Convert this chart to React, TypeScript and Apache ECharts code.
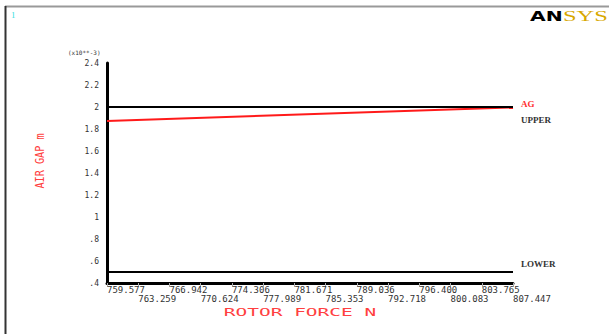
import React, { useEffect, useRef } from "react";
import * as echarts from "echarts";

const xTicks = [759.577, 763.259, 766.942, 770.624, 774.306, 777.989, 781.671, 785.353, 789.036, 792.718, 796.4, 800.083, 803.765, 807.447];
const xTickLabels = ["759.577", "763.259", "766.942", "770.624", "774.306", "777.989", "781.671", "785.353", "789.036", "792.718", "796.400", "800.083", "803.765", "807.447"];
const yTicks = [0.4, 0.6, 0.8, 1.0, 1.2, 1.4, 1.6, 1.8, 2.0, 2.2, 2.4];
const yTickLabels = [".4", ".6", ".8", "1", "1.2", "1.4", "1.6", "1.8", "2", "2.2", "2.4"];
const forceX = [759.577, 807.447];
const agValues = [1.873, 1.996];
const upperValues = [2.0, 2.0];
const lowerValues = [0.5, 0.5];

function nearestIndex(arr: number[], v: number) {
  let best = 0;
  let bd = Infinity;
  arr.forEach((a, i) => {
    const d = Math.abs(a - v);
    if (d < bd) {
      bd = d;
      best = i;
    }
  });
  return best;
}

export default function App() {
  const ref = useRef<HTMLDivElement>(null);
  useEffect(() => {
    if (!ref.current) return;
    const chart = echarts.init(ref.current, null, { renderer: "svg" });
    const mono = "DejaVu Sans Mono";
    const evenTicks = xTicks.filter((_, i) => i % 2 === 0);
    const oddTicks = xTicks.filter((_, i) => i % 2 === 1);
    const xLabelBase = {
      align: "left",
      fontFamily: mono,
      fontSize: 9,
      color: "#333",
      showMinLabel: true,
      showMaxLabel: true,
      hideOverlap: false,
      formatter: (v: number) => xTickLabels[nearestIndex(xTicks, v)],
    };
    chart.setOption({
      animation: false,
      backgroundColor: "#ffffff",
      grid: { left: 107, right: 96, top: 63, bottom: 51 },
      xAxis: [
        {
          type: "value",
          min: xTicks[0],
          max: xTicks[xTicks.length - 1],
          axisLine: { show: true, lineStyle: { color: "#000", width: 3 } },
          axisTick: { show: true, customValues: xTicks, length: 4, lineStyle: { color: "#aaa", width: 1 } },
          splitLine: { show: false },
          axisLabel: { ...xLabelBase, customValues: evenTicks, margin: 2 },
        },
        {
          type: "value",
          position: "bottom",
          offset: 9,
          min: xTicks[0],
          max: xTicks[xTicks.length - 1],
          axisLine: { show: false },
          axisTick: { show: false },
          splitLine: { show: false },
          axisLabel: { ...xLabelBase, customValues: oddTicks, margin: 2 },
        },
      ],
      yAxis: {
        type: "value",
        min: 0.4,
        max: 2.4,
        axisLine: { show: true, lineStyle: { color: "#000", width: 3 } },
        axisTick: { show: false },
        splitLine: { show: false },
        axisLabel: {
          customValues: yTicks,
          margin: 8,
          fontFamily: mono,
          fontSize: 8,
          color: "#333",
          showMinLabel: true,
          showMaxLabel: true,
          formatter: (v: number) => yTickLabels[nearestIndex(yTicks, v)],
        },
      },
      series: [
        {
          name: "UPPER",
          type: "line",
          data: forceX.map((x, i) => [x, upperValues[i]]),
          symbol: "none",
          lineStyle: { color: "#000", width: 2 },
          z: 3,
        },
        {
          name: "LOWER",
          type: "line",
          data: forceX.map((x, i) => [x, lowerValues[i]]),
          symbol: "none",
          lineStyle: { color: "#000", width: 2 },
          z: 3,
        },
        {
          name: "AG",
          type: "line",
          data: forceX.map((x, i) => [x, agValues[i]]),
          symbol: "none",
          lineStyle: { color: "#ff1a1a", width: 2 },
          z: 2,
        },
      ],
      graphic: [
        { type: "line", shape: { x1: 5, y1: 6.5, x2: 609, y2: 6.5 }, style: { stroke: "#999", lineWidth: 2 } },
        { type: "line", shape: { x1: 5.5, y1: 6, x2: 5.5, y2: 334 }, style: { stroke: "#333", lineWidth: 2 } },
        { type: "text", x: 11, y: 10, style: { text: "1", fill: "#33e0e0", fontSize: 9, fontFamily: "Liberation Serif" } },
        {
          type: "text", x: 530, y: 9, scaleX: 1.45,
          style: { text: "AN", fill: "#000", fontSize: 14, fontWeight: 900, fontFamily: "DejaVu Sans" },
        },
        {
          type: "text", x: 563, y: 9, scaleX: 1.75,
          style: { text: "SYS", fill: "#d8a800", fontSize: 14, fontFamily: "Liberation Serif" },
        },
        {
          type: "text", x: 68, y: 49,
          style: { text: "(x10**-3)", fill: "#333", fontSize: 6, fontFamily: mono },
        },
        {
          type: "text", x: 40, y: 161, rotation: Math.PI / 2, scaleX: 0.85,
          style: { text: "AIR GAP m", fill: "#ff4040", fontSize: 12, fontFamily: mono, align: "center", verticalAlign: "middle" },
        },
        {
          type: "text", x: 300, y: 313, scaleX: 1.95,
          style: { text: "ROTOR FORCE N", fill: "#ff4040", fontSize: 10, fontFamily: mono, align: "center", verticalAlign: "middle" },
        },
        {
          type: "text", x: 521, y: 103.5,
          style: { text: "AG", fill: "#ff3030", fontSize: 9, fontWeight: "bold", fontFamily: "Liberation Serif", verticalAlign: "middle" },
        },
        {
          type: "text", x: 521, y: 120,
          style: { text: "UPPER", fill: "#333", fontSize: 9, fontWeight: "bold", fontFamily: "Liberation Serif", verticalAlign: "middle" },
        },
        {
          type: "text", x: 521, y: 264,
          style: { text: "LOWER", fill: "#333", fontSize: 9, fontWeight: "bold", fontFamily: "Liberation Serif", verticalAlign: "middle" },
        },
      ],
    });
    return () => chart.dispose();
  }, []);
  return <div ref={ref} style={{ position: "fixed", left: 0, top: 0, width: 609, height: 334 }} />;
}
